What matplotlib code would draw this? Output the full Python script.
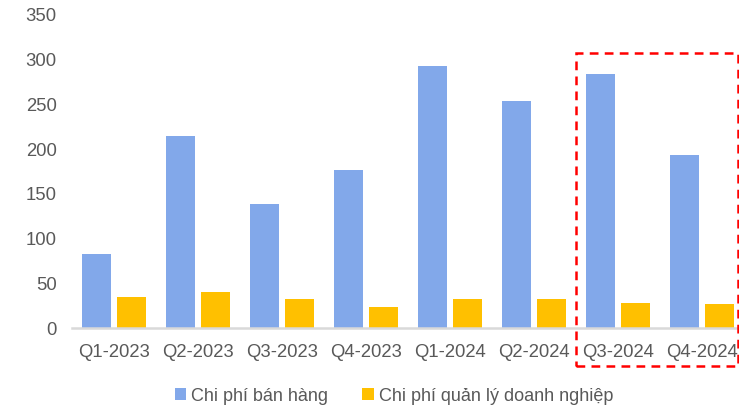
import numpy as np
import matplotlib as mpl
import matplotlib.pyplot as plt
from matplotlib.patches import Rectangle

# quarterly expenses (billion VND)
quarters = ['Q1-2023', 'Q2-2023', 'Q3-2023', 'Q4-2023',
            'Q1-2024', 'Q2-2024', 'Q3-2024', 'Q4-2024']
selling = [82, 214, 138, 176, 292, 252, 283, 192]
admin = [34, 40, 32, 22.5, 32, 32, 27, 26]
yticks = [0, 50, 100, 150, 200, 250, 300, 350]

mpl.rcParams['font.family'] = ['Liberation Sans', 'DejaVu Sans']
text_grey = '#595959'

fig = plt.figure(figsize=(7.39, 4.10), dpi=100)
# axes runs a little past the right edge of the figure
ax = fig.add_axes([72/739, 1 - 328.5/410, 672/739, 314/410])

x = np.arange(len(quarters))
off = 0.208
w = 0.335
ax.bar(x - off, selling, w, color='#82A8EA', label='Chi phí bán hàng')
ax.bar(x + off, admin, w, color='#FFC000', label='Chi phí quản lý doanh nghiệp')

ax.set_xlim(-0.5, len(quarters) - 0.5)
ax.set_ylim(0, 350)
ax.set_yticks(yticks)
ax.set_xticks(x)
ax.set_xticklabels(quarters)
ax.tick_params(axis='both', length=0, labelsize=13.3, colors=text_grey)
ax.tick_params(axis='y', pad=11)
ax.tick_params(axis='x', pad=11)
for s in ['top', 'right', 'left']:
    ax.spines[s].set_visible(False)
ax.spines['bottom'].set_color('#d9d9d9')
ax.spines['bottom'].set_linewidth(1.8)

# dashed box around the last two quarters
box = Rectangle((576/739, 1 - 366.5/410), 161.5/739, 312.5/410,
                transform=fig.transFigure, fill=False,
                edgecolor='#FF0000', linestyle=(0, (3.5, 2.5)),
                linewidth=1.8, clip_on=False)
fig.patches.append(box)

leg = fig.legend(loc='center', bbox_to_anchor=(394/739, 1 - 397/410),
                 ncol=2, frameon=False, fontsize=13,
                 handlelength=0.62, handleheight=0.62, handletextpad=0.3,
                 columnspacing=1.9)
for t in leg.get_texts():
    t.set_color(text_grey)

fig.savefig('out.png', dpi=100)
